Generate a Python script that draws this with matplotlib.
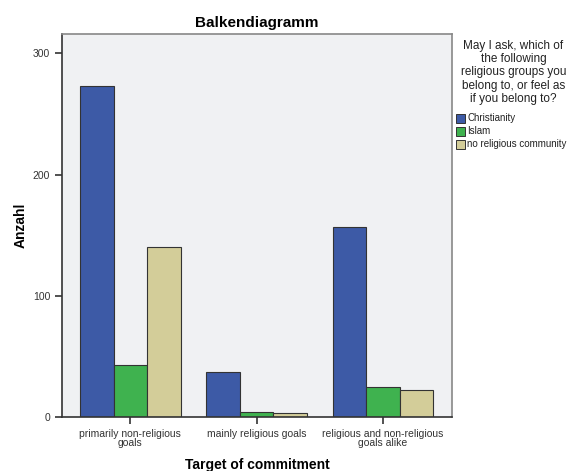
import numpy as np
import matplotlib.pyplot as plt
from matplotlib.patches import Rectangle

plt.rcParams["font.family"] = ["Liberation Sans", "DejaVu Sans"]

categories = ["primarily non-religious\ngoals", "mainly religious goals",
              "religious and non-religious\ngoals alike"]
groups = ["Christianity", "Islam", "no religious community"]
christianity = [273, 37, 157]
islam = [43, 4, 25]
no_religion = [140, 3, 22]
colors = ["#3d5aa6", "#3fb24f", "#d3cd99"]

fig = plt.figure(figsize=(5.71, 4.71), dpi=100)
ax = fig.add_axes([0.1086, 0.1146, 0.683, 0.813])
ax.set_facecolor("#f0f1f3")

x = np.arange(len(categories))
w = 0.265
for i, (vals, c, name) in enumerate(zip([christianity, islam, no_religion], colors, groups)):
    ax.bar(x + (i - 1) * w, vals, w, color=c, edgecolor="#333333", linewidth=0.8, label=name)

ax.set_xlim(-0.54, 2.545)
ax.set_ylim(0, 316)
ax.set_yticks([0, 100, 200, 300])
ax.set_xticks(x)
ax.set_xticklabels(categories, fontsize=7.5, color="#333333", linespacing=0.9)
ax.tick_params(axis="y", labelsize=7.5, labelcolor="#333333", length=5, width=1.2, color="#333333")
ax.tick_params(axis="x", length=5, width=1.2, color="#333333")
for s in ["left", "bottom"]:
    ax.spines[s].set_color("#333333")
    ax.spines[s].set_linewidth(1.2)
for s in ["top", "right"]:
    ax.spines[s].set_color("#888888")
    ax.spines[s].set_linewidth(1.2)

ax.set_ylabel("Anzahl", fontsize=10, fontweight="bold", labelpad=4)
ax.set_xlabel("Target of commitment", fontsize=10, fontweight="bold", labelpad=7)
ax.set_title("Balkendiagramm", fontsize=11, fontweight="bold", pad=5)

# legend drawn at right like SPSS output
fig.text(0.899, 0.915, "May I ask, which of\nthe following\nreligious groups you\nbelong to, or feel as\nif you belong to?",
         ha="center", va="top", fontsize=8.5, color="#222222", linespacing=1.13)
for i, (c, name) in enumerate(zip(colors, groups)):
    y = 471 - (118 + i * 13)
    fig.patches.append(Rectangle((456 / 571, (y - 5) / 471), 9 / 571, 9 / 471,
                                 transform=fig.transFigure, facecolor=c,
                                 edgecolor="#333333", linewidth=0.7))
    fig.text(467 / 571, y / 471, name, fontsize=7, va="center", color="#222222")

fig.savefig("out.png", dpi=100)
